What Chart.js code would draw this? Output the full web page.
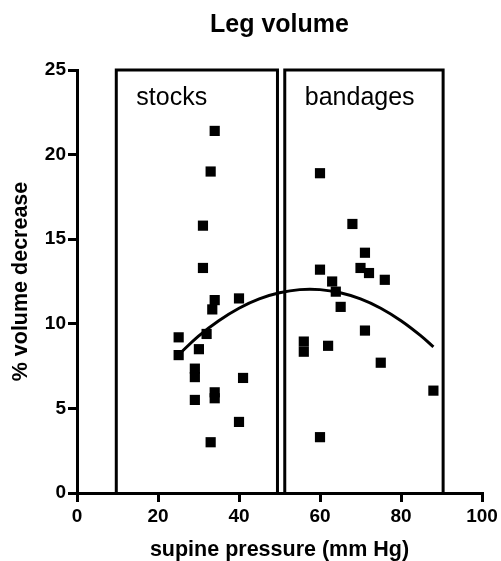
<!DOCTYPE html>
<html>
<head>
<meta charset="utf-8">
<title>Leg volume</title>
<script src="https://cdn.jsdelivr.net/npm/chart.js@4/dist/chart.umd.min.js"></script>
<style>
  html, body { margin: 0; padding: 0; background: #fff; }
  #wrap { width: 501px; height: 561px; }
</style>
</head>
<body>
<div id="wrap"><canvas id="chart" width="501" height="561"></canvas></div>
<script>
// Leg volume: % volume decrease vs supine pressure, stocks vs bandages

// ---- data ----
var stocksPressure = [34, 33, 31.1, 31.1, 34, 33.4, 40, 25.1, 32, 25.1, 30.1, 29.1, 29.1, 41, 34, 34, 29.1, 40, 33];
var stocksVolume   = [21.4, 19.0, 15.8, 13.3, 11.4, 10.85, 11.5, 9.2, 9.4, 8.15, 8.5, 7.35, 6.85, 6.8, 5.95, 5.6, 5.5, 4.2, 3.0];

var bandagesPressure = [60, 68, 71.1, 60, 70, 72.1, 76, 63, 63.9, 65.1, 71.1, 56, 56, 62, 75, 88, 60];
var bandagesVolume   = [18.9, 15.9, 14.2, 13.2, 13.3, 13.0, 12.6, 12.5, 11.9, 11.0, 9.6, 8.95, 8.35, 8.7, 7.7, 6.05, 3.3];

// fitted curve
var curvePressure = [25, 30, 35, 40, 45, 50, 55, 60, 65, 70, 75, 80, 85, 88];
var curveVolume   = [8.15, 9.27, 10.18, 10.92, 11.47, 11.83, 12.02, 12.02, 11.83, 11.47, 10.92, 10.18, 9.27, 8.63];

// group boxes (x range, full y range)
var stocksBox   = [9.7, 49.5];
var bandagesBox = [51.3, 90.4];
var boxNames    = ['stocks', 'bandages'];

var xTicks = [0, 20, 40, 60, 80, 100];
var yTicks = [0, 5, 10, 15, 20, 25];

var FONT = '"Liberation Sans", Arial, sans-serif';

// ---- helpers ----
function toPoints(xs, ys) {
  return xs.map(function (x, i) { return { x: x, y: ys[i] }; });
}

function boxPath(range) {
  var yMin = yTicks[0], yMax = yTicks[yTicks.length - 1];
  return [
    { x: range[0], y: yMin }, { x: range[0], y: yMax },
    { x: range[1], y: yMax }, { x: range[1], y: yMin }
  ];
}

// box captions sit near the top-left of each box
var boxCaptions = {
  id: 'boxCaptions',
  afterDatasetsDraw: function (chart) {
    var ctx = chart.ctx;
    var xs = chart.scales.x, ys = chart.scales.y;
    var boxes = [stocksBox, bandagesBox];
    ctx.save();
    ctx.font = '25px ' + FONT;
    ctx.fillStyle = '#000';
    ctx.textBaseline = 'alphabetic';
    ctx.textAlign = 'left';
    boxes.forEach(function (b, i) {
      var px = xs.getPixelForValue(b[0]) + 20;
      var py = ys.getPixelForValue(yTicks[yTicks.length - 1]) + 35;
      ctx.fillText(boxNames[i], px, py);
    });
    ctx.restore();
  }
};

var boxStyle = {
  type: 'line', borderColor: '#000', borderWidth: 3, pointRadius: 0,
  fill: false, tension: 0, clip: false, borderJoinStyle: 'miter'
};

new Chart(document.getElementById('chart'), {
  type: 'scatter',
  data: {
    datasets: [
      Object.assign({ label: 'stocks box', data: boxPath(stocksBox) }, boxStyle),
      Object.assign({ label: 'bandages box', data: boxPath(bandagesBox) }, boxStyle),
      {
        type: 'line', label: 'fit', data: toPoints(curvePressure, curveVolume),
        borderColor: '#000', borderWidth: 3, pointRadius: 0, tension: 0.4, fill: false
      },
      {
        label: 'stocks', data: toPoints(stocksPressure, stocksVolume),
        pointStyle: 'rect', pointRadius: 7.2, borderWidth: 0, backgroundColor: '#000'
      },
      {
        label: 'bandages', data: toPoints(bandagesPressure, bandagesVolume),
        pointStyle: 'rect', pointRadius: 7.2, borderWidth: 0, backgroundColor: '#000'
      }
    ]
  },
  options: {
    responsive: false,
    animation: false,
    layout: { padding: { left: 0, right: 19, top: 0, bottom: 0 } },
    plugins: {
      legend: { display: false },
      tooltip: { enabled: false },
      title: {
        display: true,
        text: 'Leg volume',
        color: '#000',
        fullSize: false,
        font: { family: FONT, size: 25, weight: 'bold', lineHeight: 1.2 },
        padding: { top: 10, bottom: 30 }
      }
    },
    scales: {
      x: {
        type: 'linear', min: 0, max: 100,
        afterBuildTicks: function (s) { s.ticks = xTicks.map(function (v) { return { value: v }; }); },
        afterFit: function (s) { s.height = 68; },
        border: { display: true, color: '#000', width: 3 },
        grid: { drawOnChartArea: false, drawTicks: true, tickLength: 9, color: '#000', lineWidth: 3 },
        ticks: { color: '#000', padding: 3, maxRotation: 0, font: { family: FONT, size: 19, weight: 'bold' } },
        title: {
          display: true, text: 'supine pressure (mm Hg)', color: '#000',
          font: { family: FONT, size: 21.5, weight: 'bold', lineHeight: 1 },
          padding: { top: 0, bottom: 0 }
        }
      },
      y: {
        type: 'linear', min: 0, max: 25,
        afterBuildTicks: function (s) { s.ticks = yTicks.map(function (v) { return { value: v }; }); },
        afterFit: function (s) { s.width = 77; },
        border: { display: true, color: '#000', width: 3 },
        grid: { drawOnChartArea: false, drawTicks: true, tickLength: 9, color: '#000', lineWidth: 3 },
        ticks: { color: '#000', padding: 2, font: { family: FONT, size: 19, weight: 'bold' } },
        title: {
          display: true, text: '% volume decrease', color: '#000',
          font: { family: FONT, size: 21.5, weight: 'bold', lineHeight: 1 },
          padding: { top: 10, bottom: 0 }
        }
      }
    }
  },
  plugins: [boxCaptions]
});
</script>
</body>
</html>
